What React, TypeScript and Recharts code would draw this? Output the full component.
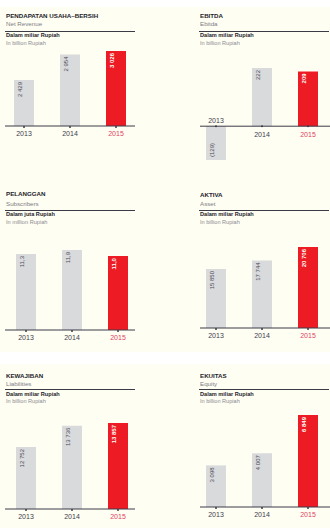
import React from 'react';
import {
  Bar,
  BarChart,
  Cell,
  LabelList,
  ReferenceDot,
  ReferenceLine,
  XAxis,
  YAxis,
} from 'recharts';

const years = ['2013', '2014', '2015'];
const revenue = [2429, 2954, 3026];
const ebitda = [-129, 222, 209];
const subscribers = [11.3, 11.9, 11.0];
const assets = [15850, 17744, 20706];
const liabilities = [12752, 13736, 13857];
const equity = [3098, 4007, 6849];

const GRAY = '#d9dadc';
const RED = '#ed1c24';
const INK = '#1d1d2b';
const AXIS = '#3a3a48';
const CREAM = '#fffef3';
const FONT = '"Liberation Sans", Arial, sans-serif';

const fmtThousands = (v: number) => {
  const s = Math.abs(Math.round(v))
    .toString()
    .replace(/\B(?=(\d{3})+(?!\d))/g, ' ');
  return v < 0 ? `(${s})` : s;
};
const fmtDecimal = (v: number) => v.toFixed(1).replace('.', ',');

function Txt({ x, y, size, bold, color, children }: any) {
  return (
    <div
      style={{
        position: 'absolute',
        left: x,
        top: y - size * 0.5,
        fontSize: size,
        lineHeight: `${size}px`,
        fontWeight: bold ? 700 : 400,
        color,
        fontFamily: FONT,
        whiteSpace: 'nowrap',
      }}
    >
      {children}
    </div>
  );
}

function Header({ x, y, title, subtitle, unit, unitEn }: any) {
  // y = [title, subtitle, rule, unit, unitEn]
  return (
    <>
      <Txt x={x} y={y[0]} size={6.2} bold color={INK}>{title}</Txt>
      <Txt x={x} y={y[1]} size={6.2} color="#7d7d85">{subtitle}</Txt>
      <div
        style={{
          position: 'absolute',
          left: x - 1,
          top: y[2] - 0.5,
          width: 130,
          height: 1,
          background: '#3b3b45',
        }}
      />
      <Txt x={x} y={y[3]} size={5.6} bold color={INK}>{unit}</Txt>
      <Txt x={x} y={y[4]} size={5.6} color="#8a8a92">{unitEn}</Txt>
    </>
  );
}

const YearTick = (props: any) => {
  const { x, y, payload } = props;
  const last = payload.value === years[years.length - 1];
  return (
    <text
      x={x}
      y={y + 3.5}
      textAnchor="middle"
      dominantBaseline="central"
      fontSize={7}
      fontFamily={FONT}
      fill={last ? '#e2445f' : '#3d3d4d'}
    >
      {payload.value}
    </text>
  );
};

const valueLabel = (fmt: (v: number) => string) => (props: any) => {
  const { x, y, width, height, value, index } = props;
  const top = Math.min(y, y + height);
  const bottom = Math.max(y, y + height);
  const isRed = index === years.length - 1;
  const neg = value < 0;
  const cx = x + 6;
  const cy = neg ? bottom - 3 : top + 2;
  return (
    <text
      x={cx}
      y={cy}
      transform={`rotate(-90 ${cx} ${cy})`}
      textAnchor={neg ? 'start' : 'end'}
      dominantBaseline="central"
      fontSize={6}
      fontWeight={isRed ? 700 : 400}
      fontFamily={FONT}
      fill={isRed ? '#ffffff' : '#4a4a55'}
    >
      {fmt(value)}
    </text>
  );
};

const yearLabel = (values: number[]) => (props: any) => {
  const { x, y, width, height, index } = props;
  const top = Math.min(y, y + height);
  const bottom = Math.max(y, y + height);
  const neg = values[index] < 0;
  const last = index === years.length - 1;
  return (
    <text
      x={x + width / 2}
      y={neg ? top - 6 : bottom + 8}
      textAnchor="middle"
      dominantBaseline="central"
      fontSize={7}
      fontFamily={FONT}
      fill={last ? '#e2445f' : '#3d3d4d'}
    >
      {years[index]}
    </text>
  );
};

function Panel({ left, top, width, plotHeight, margin, pad, domain, values, fmt }: any) {
  const data = years.map((year, i) => ({ year, value: values[i] }));
  return (
    <div style={{ position: 'absolute', left, top }}>
      <BarChart
        width={width}
        height={plotHeight + 16}
        data={data}
        margin={{ top: 0, right: margin[1], left: margin[0], bottom: 0 }}
      >
        <XAxis
          dataKey="year"
          interval={0}
          height={16}
          padding={{ left: pad[0], right: pad[1] }}
          axisLine={{ stroke: AXIS }}
          tickLine={{ stroke: AXIS, strokeWidth: 1.5 }}
          tickSize={2}
          tick={<YearTick />}
        />
        <YAxis hide type="number" domain={domain} allowDataOverflow />
        <Bar dataKey="value" barSize={20} isAnimationActive={false}>
          {data.map((d, i) => (
            <Cell key={d.year} fill={i === data.length - 1 ? RED : GRAY} />
          ))}
          <LabelList dataKey="value" content={valueLabel(fmt)} />
        </Bar>
      </BarChart>
    </div>
  );
}

function EbitdaPanel() {
  const data = years.map((year, i) => ({ year, value: ebitda[i] }));
  return (
    <div style={{ position: 'absolute', left: 165, top: 68 }}>
      <BarChart
        width={165}
        height={92}
        data={data}
        margin={{ top: 0, right: 0, left: 35, bottom: 0 }}
      >
        <XAxis dataKey="year" hide padding={{ left: -7, right: -1 }} />
        <YAxis hide type="number" domain={[-129, 222]} allowDataOverflow />
        <ReferenceLine y={0} stroke={AXIS} ifOverflow="visible" />
        <Bar dataKey="value" barSize={20} isAnimationActive={false}>
          {data.map((d, i) => (
            <Cell key={d.year} fill={i === data.length - 1 ? RED : GRAY} />
          ))}
          <LabelList dataKey="value" content={valueLabel(fmtThousands)} />
          <LabelList dataKey="year" content={yearLabel(ebitda)} />
        </Bar>
        {years.map((yr) => (
          <ReferenceDot key={yr} x={yr} y={0} r={1} fill={AXIS} stroke="none" />
        ))}
      </BarChart>
    </div>
  );
}

export default function App() {
  return (
    <div
      style={{
        position: 'absolute',
        left: 0,
        top: 0,
        width: 330,
        height: 528,
        background: '#ffffff',
        overflow: 'hidden',
      }}
    >
      <div style={{ position: 'absolute', left: 0, top: 7, width: 330, height: 345, background: CREAM }} />
      <div style={{ position: 'absolute', left: 0, top: 364, width: 330, height: 164, background: CREAM }} />

      <Header
        x={6}
        y={[16, 24, 31, 35.5, 43.5]}
        title="PENDAPATAN USAHA–BERSIH"
        subtitle="Net Revenue"
        unit="Dalam miliar Rupiah"
        unitEn="In billion Rupiah"
      />
      <Panel
        left={0}
        top={51}
        width={140}
        plotHeight={75}
        margin={[5, 5]}
        pad={[-4, -4]}
        domain={[1480, 3026]}
        values={revenue}
        fmt={fmtThousands}
      />

      <Header
        x={200}
        y={[16, 24.5, 31, 36, 43.7]}
        title="EBITDA"
        subtitle="Ebitda"
        unit="Dalam miliar Rupiah"
        unitEn="In billion Rupiah"
      />
      <EbitdaPanel />

      <Header
        x={6}
        y={[194.5, 204.5, 210, 215, 223]}
        title="PELANGGAN"
        subtitle="Subscribers"
        unit="Dalam juta Rupiah"
        unitEn="In million Rupiah"
      />
      <Panel
        left={0}
        top={250}
        width={140}
        plotHeight={80}
        margin={[5, 5]}
        pad={[-2, -6]}
        domain={[0, 11.9]}
        values={subscribers}
        fmt={fmtDecimal}
      />

      <Header
        x={200}
        y={[195.5, 204, 210, 215, 223]}
        title="AKTIVA"
        subtitle="Asset"
        unit="Dalam miliar Rupiah"
        unitEn="In billion Rupiah"
      />
      <Panel
        left={165}
        top={247}
        width={165}
        plotHeight={81}
        margin={[35, 0]}
        pad={[-7, -1]}
        domain={[2800, 20706]}
        values={assets}
        fmt={fmtThousands}
      />

      <Header
        x={6}
        y={[376, 384, 389, 394.5, 402]}
        title="KEWAJIBAN"
        subtitle="Liabilities"
        unit="Dalam miliar Rupiah"
        unitEn="In billion Rupiah"
      />
      <Panel
        left={0}
        top={423}
        width={140}
        plotHeight={86}
        margin={[5, 5]}
        pad={[-2, -6]}
        domain={[9900, 13857]}
        values={liabilities}
        fmt={fmtThousands}
      />

      <Header
        x={200}
        y={[376, 384, 389, 394.5, 402]}
        title="EKUITAS"
        subtitle="Equity"
        unit="Dalam miliar Rupiah"
        unitEn="In billion Rupiah"
      />
      <Panel
        left={165}
        top={415}
        width={165}
        plotHeight={92}
        margin={[35, 0]}
        pad={[-7, -1]}
        domain={[0, 6849]}
        values={equity}
        fmt={fmtThousands}
      />
    </div>
  );
}
